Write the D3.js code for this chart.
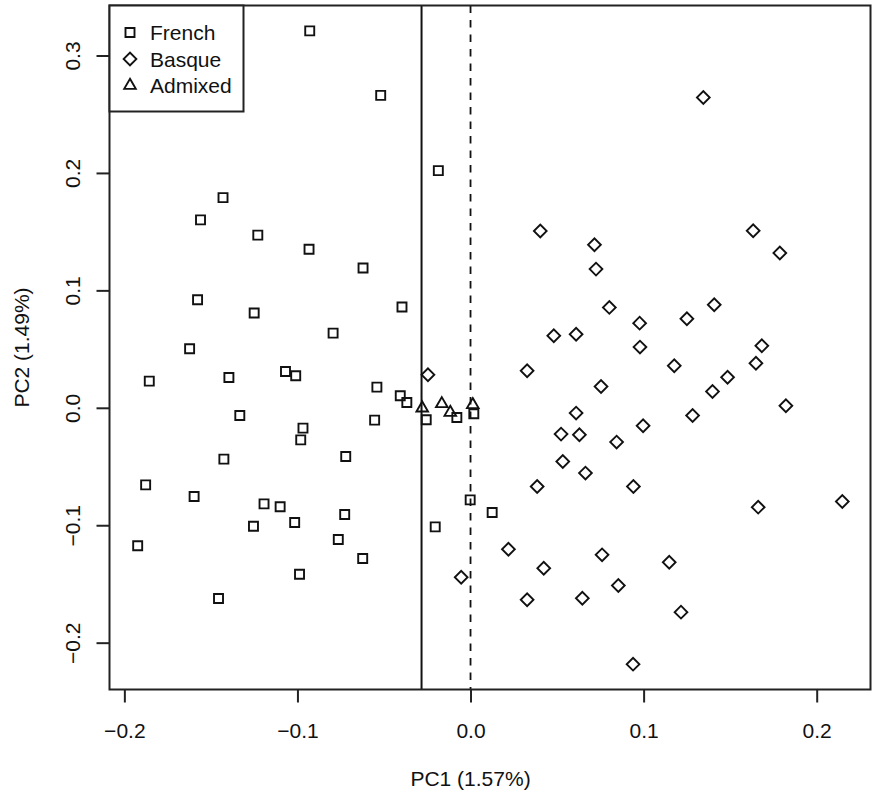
<!DOCTYPE html>
<html>
<head>
<meta charset="utf-8">
<script src="https://cdn.jsdelivr.net/npm/d3@7"></script>
<style>
  body { margin: 0; background: #fff; }
  svg text { font-family: "Liberation Sans", Arial, sans-serif; fill: #111; }
</style>
</head>
<body>
<div id="chart"></div>
<script>
// PCA scores
var frenchPC1 = [-0.0929, -0.0519, -0.0186, -0.143, -0.156, -0.1229, -0.0933, -0.0621, -0.1577, -0.125,
  -0.0396, -0.0794, -0.1623, -0.1856, -0.1396, -0.1069, -0.101, -0.0541, -0.0406, -0.0368,
  -0.1333, -0.0554, -0.0968, -0.0981, -0.1425, -0.0721, -0.1877, -0.1597, -0.1193, -0.110,
  -0.1254, -0.1016, -0.0727, -0.0764, -0.1923, -0.0623, -0.0988, -0.1456, -0.0256, -0.0079,
  0.0019, -0.0002, 0.0125, -0.0204];
var frenchPC2 = [0.321, 0.266, 0.202, 0.179, 0.160, 0.147, 0.135, 0.119, 0.092, 0.0807,
  0.0858, 0.0636, 0.0503, 0.0227, 0.0258, 0.0309, 0.0273, 0.0176, 0.0102, 0.0045,
  -0.0066, -0.0105, -0.0173, -0.0273, -0.0437, -0.0415, -0.0656, -0.0755, -0.0818, -0.0843,
  -0.1008, -0.0977, -0.0909, -0.1122, -0.1175, -0.1283, -0.1417, -0.1624, -0.0102, -0.0083,
  -0.0051, -0.0784, -0.0892, -0.1014];

var basquePC1 = [-0.0246, 0.0327, 0.0403, 0.1345, 0.0716, 0.0725, 0.0802, 0.0977, 0.125, 0.0481,
  0.061, 0.0979, 0.1177, 0.0754, 0.061, 0.0523, 0.0629, 0.0844, 0.0997, 0.1283,
  0.0533, 0.0664, 0.0385, 0.0941, 0.0219, 0.076, 0.1148, 0.0423, 0.0854, 0.0327,
  0.0646, 0.1216, 0.0939, -0.0054, 0.1633, 0.1787, 0.1408, 0.1683, 0.1649, 0.1485,
  0.1398, 0.1822, 0.1662, 0.2148];
var basquePC2 = [0.0281, 0.0315, 0.1505, 0.2643, 0.1388, 0.1181, 0.0855, 0.0721, 0.0758, 0.0613,
  0.0627, 0.0517, 0.0358, 0.0181, -0.0045, -0.0224, -0.023, -0.0292, -0.0153, -0.0065,
  -0.0457, -0.0556, -0.067, -0.067, -0.1204, -0.1252, -0.1315, -0.1366, -0.1513, -0.1635,
  -0.1621, -0.174, -0.2183, -0.1443, 0.1508, 0.1318, 0.0877, 0.0528, 0.038, 0.026,
  0.0139, 0.0017, -0.0846, -0.0798];

var admixedPC1 = [-0.0279, -0.0166, -0.0117, 0.0013];
var admixedPC2 = [-0.0003, 0.0034, -0.004, 0.0026];

var groups = ["French", "Basque", "Admixed"];
var xTicks = [-0.2, -0.1, 0.0, 0.1, 0.2];
var yTicks = [-0.2, -0.1, 0.0, 0.1, 0.2, 0.3];
var solidLineX = -0.0283;
var dashedLineX = 0;

var width = 872, height = 800;
var margin = {top: 5.5, right: 1.5, bottom: 110.5, left: 109.5};
var w = width - margin.left - margin.right;
var h = height - margin.top - margin.bottom;

var svg = d3.select("#chart").append("svg")
  .attr("width", width)
  .attr("height", height);

var g = svg.append("g")
  .attr("transform", "translate(" + margin.left + "," + margin.top + ")");

function toPoints(xs, ys, grp) {
  return xs.map(function(x, i) { return {x: x, y: ys[i], group: grp}; });
}
var points = []
  .concat(toPoints(frenchPC1, frenchPC2, "French"))
  .concat(toPoints(basquePC1, basquePC2, "Basque"))
  .concat(toPoints(admixedPC1, admixedPC2, "Admixed"));

// R style 4% padding on each side
function padded(ext) {
  var p = (ext[1] - ext[0]) * 0.04;
  return [ext[0] - p, ext[1] + p];
}
var x = d3.scaleLinear()
  .domain(padded(d3.extent(points, function(d) { return d.x; })))
  .range([0, w]);
var y = d3.scaleLinear()
  .domain(padded(d3.extent(points, function(d) { return d.y; })))
  .range([h, 0]);

var fmt = d3.format(".1f");

// x axis
var xAxis = g.append("g")
  .attr("transform", "translate(0," + h + ")")
  .call(d3.axisBottom(x).tickValues(xTicks).tickSize(13).tickPadding(6).tickFormat(fmt));
xAxis.select(".domain").remove();
xAxis.selectAll(".tick line").attr("stroke", "#222").attr("stroke-width", 2);
xAxis.selectAll(".tick text")
  .attr("font-size", 21)
  .attr("y", 48.5).attr("dy", 0);

// y axis, labels rotated like R
var yAxis = g.append("g")
  .call(d3.axisLeft(y).tickValues(yTicks).tickSize(13).tickFormat(fmt));
yAxis.select(".domain").remove();
yAxis.selectAll(".tick line").attr("stroke", "#222").attr("stroke-width", 2);
yAxis.selectAll(".tick text")
  .attr("font-size", 21)
  .attr("x", 0).attr("dy", 0)
  .attr("text-anchor", "middle")
  .attr("transform", "translate(-29.5,0) rotate(-90)");

// axis titles
g.append("text")
  .attr("x", x(0) ).attr("y", h + 96)
  .attr("text-anchor", "middle")
  .attr("font-size", 21)
  .text("PC1 (1.57%)");

g.append("text")
  .attr("transform", "translate(" + (-81) + "," + (h / 2) + ") rotate(-90)")
  .attr("text-anchor", "middle")
  .attr("font-size", 21)
  .text("PC2 (1.49%)");

// reference lines
g.append("line")
  .attr("x1", x(solidLineX)).attr("x2", x(solidLineX))
  .attr("y1", 0).attr("y2", h)
  .attr("stroke", "#111").attr("stroke-width", 2);
g.append("line")
  .attr("x1", x(dashedLineX)).attr("x2", x(dashedLineX))
  .attr("y1", 0).attr("y2", h)
  .attr("stroke", "#111").attr("stroke-width", 1.8)
  .attr("stroke-dasharray", "7.5,7");

// symbols
var shapes = {
  French: {type: d3.symbolSquare, size: 81, rot: 0},
  Basque: {type: d3.symbolSquare, size: 81, rot: 45},
  Admixed: {type: d3.symbolTriangle, size: 58, rot: 0}
};
function symPath(grp) {
  return d3.symbol().type(shapes[grp].type).size(shapes[grp].size)();
}

g.append("g").selectAll("path.pt")
  .data(points)
  .enter()
  .append("path")
  .attr("class", "pt")
  .attr("d", function(d) { return symPath(d.group); })
  .attr("transform", function(d) {
    return "translate(" + x(d.x) + "," + y(d.y) + ") rotate(" + shapes[d.group].rot + ")";
  })
  .attr("fill", "none")
  .attr("stroke", "#111")
  .attr("stroke-width", 1.9);

// plot frame
g.append("rect")
  .attr("x", 0).attr("y", 0)
  .attr("width", w).attr("height", h)
  .attr("fill", "none")
  .attr("stroke", "#222").attr("stroke-width", 2);

// legend
var legend = g.append("g");
legend.append("rect")
  .attr("x", 0).attr("y", 0)
  .attr("width", 134).attr("height", 106)
  .attr("fill", "#fff")
  .attr("stroke", "#222").attr("stroke-width", 2);

var rows = legend.selectAll("g.row")
  .data(groups)
  .enter()
  .append("g")
  .attr("class", "row")
  .attr("transform", function(d, i) { return "translate(0," + (27 + i * 26.5) + ")"; });

rows.append("path")
  .attr("d", function(d) { return symPath(d); })
  .attr("transform", function(d) { return "translate(20.5,0) rotate(" + shapes[d].rot + ")"; })
  .attr("fill", "none")
  .attr("stroke", "#111")
  .attr("stroke-width", 1.9);

rows.append("text")
  .attr("x", 40.5)
  .attr("dy", "0.36em")
  .attr("font-size", 21)
  .text(function(d) { return d; });
</script>
</body>
</html>
